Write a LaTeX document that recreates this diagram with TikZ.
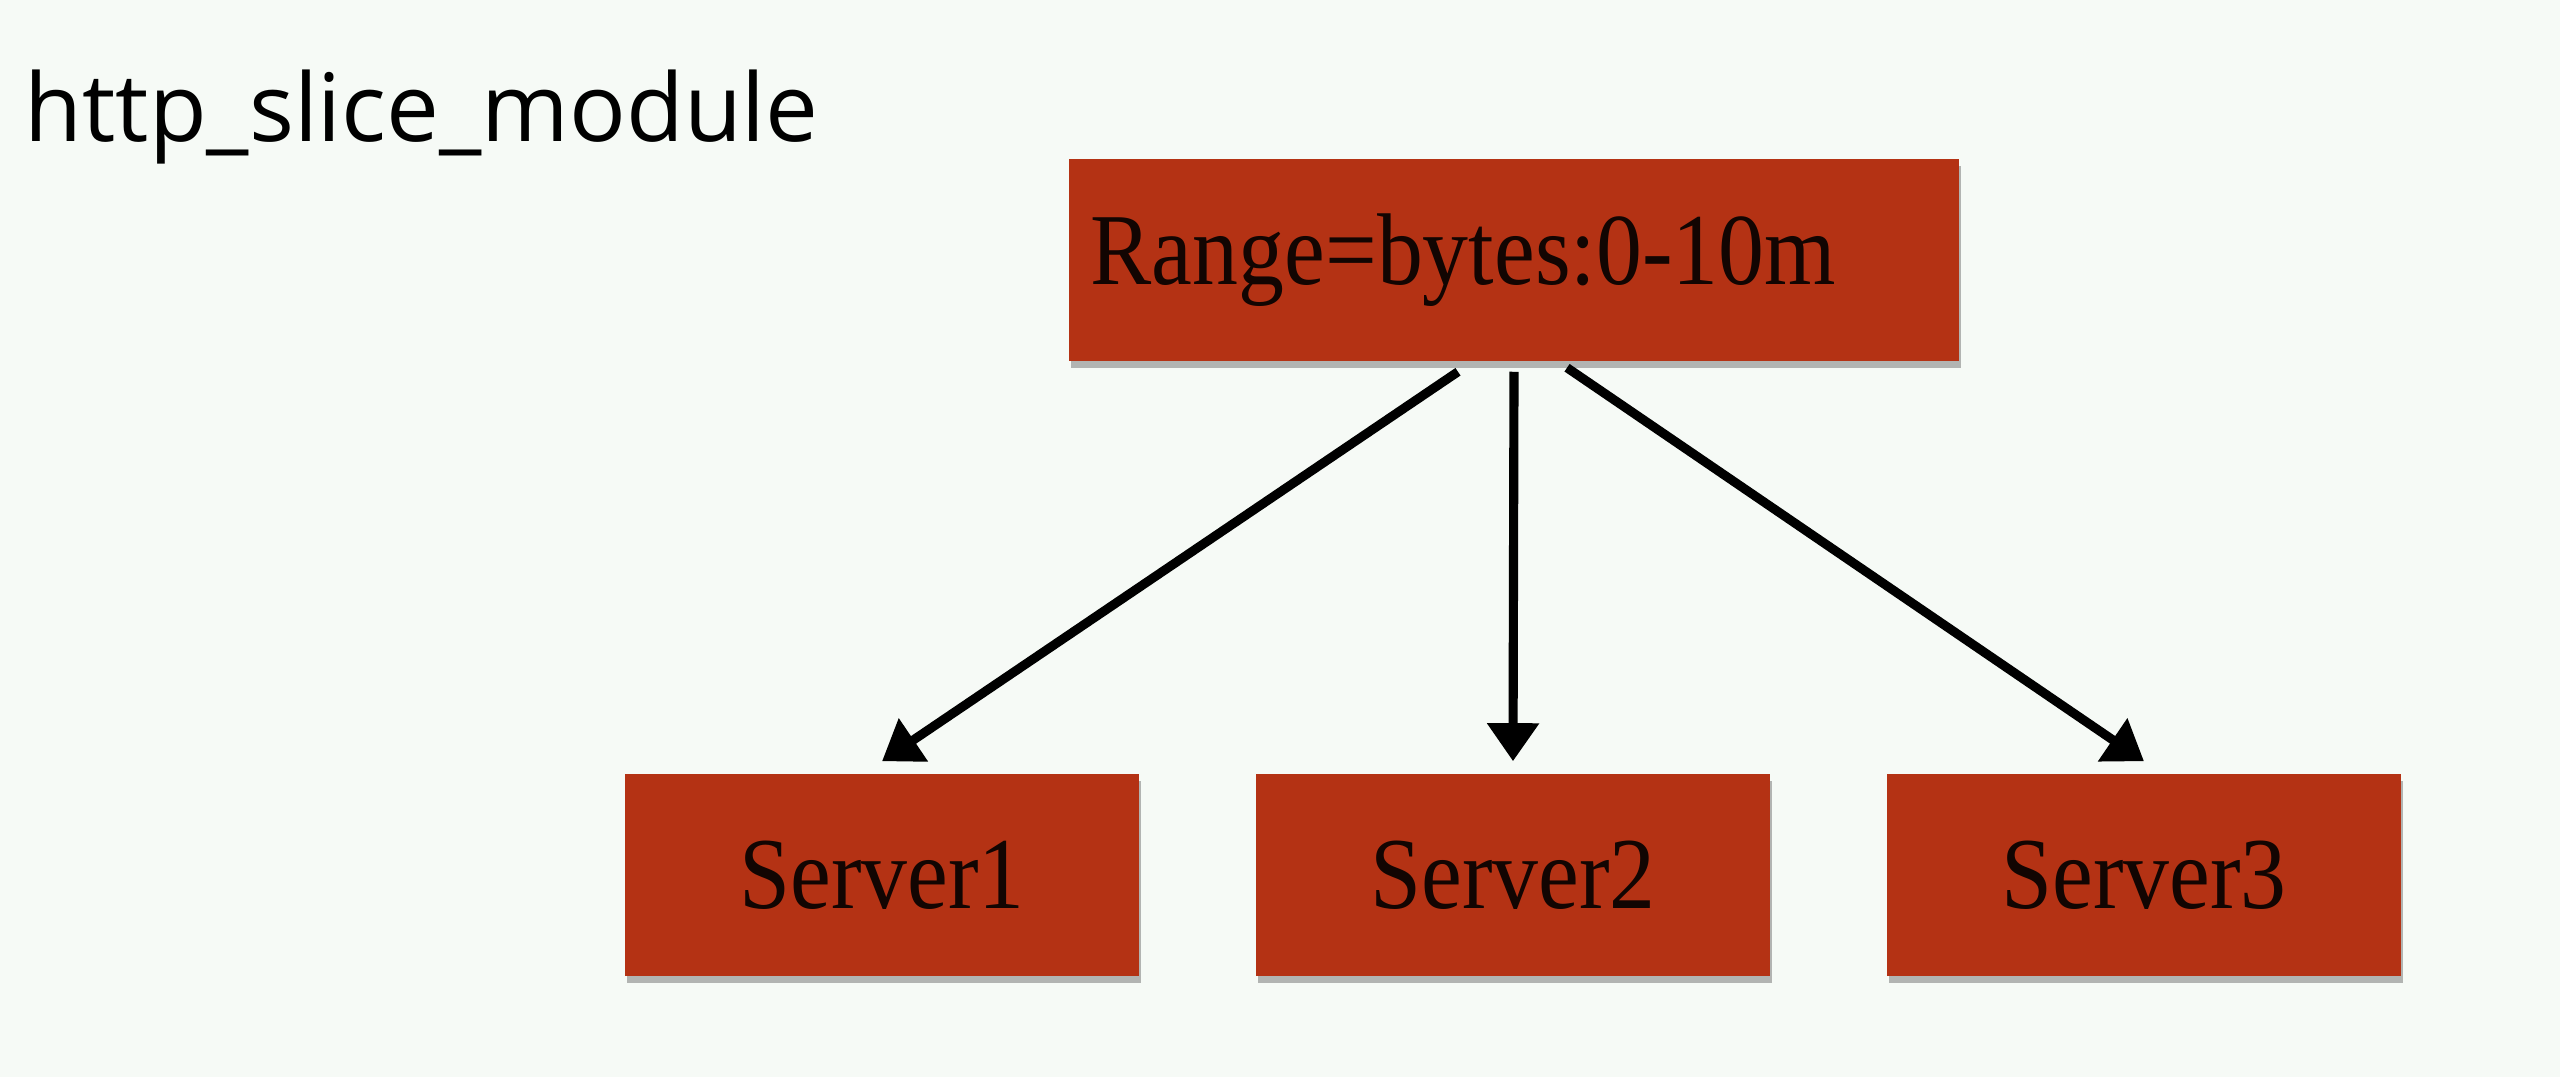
\documentclass[tikz,border=0pt]{standalone}
\usepackage{fontspec}
\setmainfont{Liberation Serif}
\newfontfamily\boxfont[FakeStretch=0.9]{Liberation Serif}
\newfontfamily\titlefont{Open Sans}
\usetikzlibrary{arrows.meta,shadows}
\definecolor{bgcol}{RGB}{246,250,246}
\definecolor{boxred}{RGB}{180,50,20}
\tikzset{
  redbox/.style={draw=none, fill=boxred, minimum height=2.02cm, inner sep=0pt,
    font=\boxfont\fontsize{29}{31}\selectfont, text=black!90!boxred,
    drop shadow={opacity=0.4, shadow xshift=0.02cm, shadow yshift=-0.07cm, fill=black!70}},
  conn/.style={line width=2.6pt, draw=black, -{Triangle[length=0.38cm,width=0.5cm]}}
}
\begin{document}
\begin{tikzpicture}[x=0.01cm,y=-0.01cm]
\fill[bgcol] (0,0) rectangle (2560,1077);
\useasboundingbox (0,0) rectangle (2560,1077);
\node[anchor=base west, inner sep=0pt, font=\titlefont\fontsize{26.8}{30}\selectfont] (title) at (24,142) {http\_slice\_module};
\node[redbox, minimum width=8.9cm, text width=8.46cm, align=left] (top) at (1514,260) {Range=bytes:0-10m};
\node[redbox, minimum width=5.14cm] (s1) at (882,875) {Server1};
\node[redbox, minimum width=5.14cm] (s2) at (1513,875) {Server2};
\node[redbox, minimum width=5.14cm] (s3) at (2144,875) {Server3};
\draw[conn] ([xshift=-0.56cm,yshift=-0.10cm]top.south) -- ([yshift=0.12cm]s1.north);
\draw[conn] ([yshift=-0.10cm]top.south) -- ([yshift=0.12cm]s2.north);
\draw[conn] ([xshift=0.53cm,yshift=-0.06cm]top.south) -- ([yshift=0.12cm]s3.north);
\end{tikzpicture}
\end{document}
